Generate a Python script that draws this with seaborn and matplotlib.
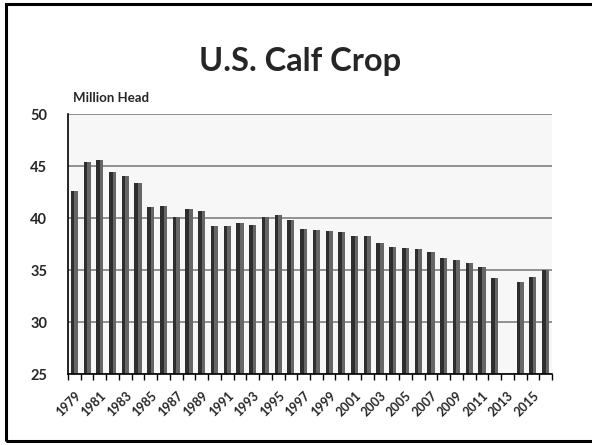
import numpy as np
import pandas as pd
import seaborn as sns
import matplotlib.pyplot as plt
from matplotlib.patches import Rectangle

sns.set_theme(style="white")
plt.rcParams["font.family"] = ["Lato", "DejaVu Sans"]

# calf crop, million head (2013 missing in the source chart)
years = list(range(1979, 2017))
estimates = [42.6, 45.35, 45.6, 44.4, 44.07, 43.37, 41.06, 41.18, 40.1, 40.9,
             40.67, 39.26, 39.26, 39.52, 39.36, 40.13, 40.25, 39.84, 38.97, 38.8,
             38.78, 38.65, 38.3, 38.23, 37.6, 37.24, 37.12, 37.02, 36.73, 36.12,
             35.93, 35.67, 35.29, 34.26, np.nan, 33.88, 34.29, np.nan]
projection = [np.nan] * 37 + [34.96]

df = pd.concat([
    pd.DataFrame({"Year": [str(y) for y in years], "Head": estimates, "Series": "Estimate"}),
    pd.DataFrame({"Year": [str(y) for y in years], "Head": projection, "Series": "Projection"}),
])

fig = plt.figure(figsize=(5.92, 4.45), dpi=100)
ax = fig.add_axes([68 / 592, 1 - 374 / 445, 484 / 592, 260 / 445])
ax.set_facecolor("#f7f7f7")

sns.barplot(data=df, x="Year", y="Head", hue="Series", order=[str(y) for y in years],
            hue_order=["Estimate", "Projection"], palette=["#2e2e2e", "#666666"],
            width=0.56, dodge=True, saturation=1, legend=False,
            edgecolor="none", linewidth=0, ax=ax)

ax.set_xlim(-0.5, len(years) - 0.5)
ax.set_ylim(25, 50)
ax.set_yticks(range(25, 51, 5))
ax.yaxis.grid(True, color="#808080", linewidth=1.2)
ax.set_axisbelow(True)
for side in ["top", "right"]:
    ax.spines[side].set_visible(False)
for side in ["left", "bottom"]:
    ax.spines[side].set_color("black")
    ax.spines[side].set_linewidth(1.2)

ax.set_xticks(np.arange(len(years) + 1) - 0.5, minor=True)
ax.tick_params(axis="x", which="minor", bottom=True, length=4, width=1, color="black")
ax.tick_params(axis="x", which="major", bottom=False)
ax.set_xticks(range(len(years)))
ax.set_xticklabels([str(y) if (y - 1979) % 2 == 0 else "" for y in years],
                   rotation=45, ha="right", rotation_mode="anchor",
                   fontsize=9, fontweight="bold")
ax.tick_params(axis="x", pad=5)
ax.tick_params(axis="y", left=False, labelsize=10.5, pad=9)
for lab in ax.get_yticklabels():
    lab.set_fontweight("bold")
ax.set_xlabel("")
ax.set_ylabel("")

fig.text(300 / 592, 1 - 62 / 445, "U.S. Calf Crop", ha="center", va="center",
         fontsize=23.5, fontweight="bold")
fig.text(73 / 592, 1 - 98 / 445, "Million Head", ha="left", va="center",
         fontsize=9.5, fontweight="bold")

fig.patches.append(Rectangle((6 / 592, 1 - 441 / 445), 600 / 592, 437 / 445,
                             transform=fig.transFigure, fill=False,
                             edgecolor="black", linewidth=2.2))

fig.savefig("out.png", dpi=100)
